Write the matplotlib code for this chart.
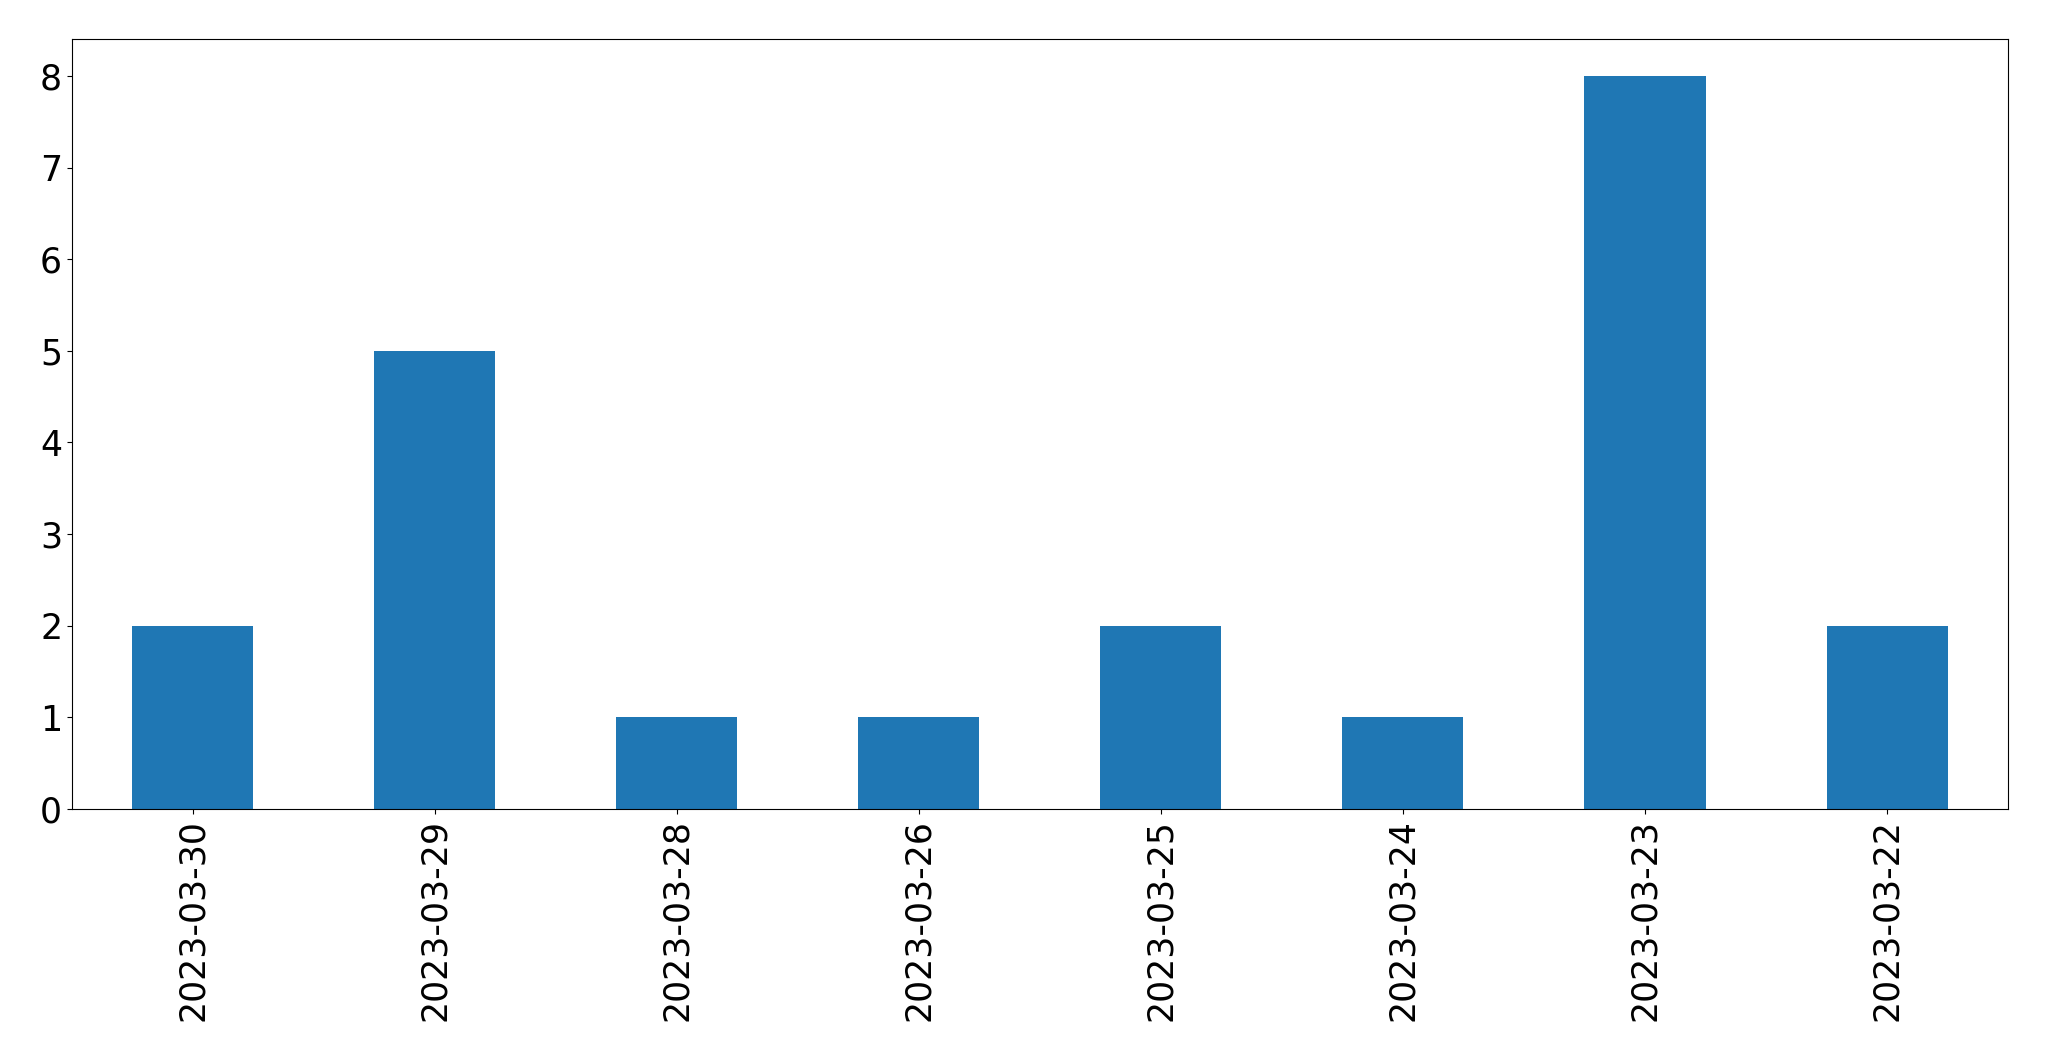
import matplotlib
matplotlib.use("Agg")
import matplotlib.pyplot as plt
import pandas as pd

# counts per day
dates = ["2023-03-30", "2023-03-29", "2023-03-28", "2023-03-26",
         "2023-03-25", "2023-03-24", "2023-03-23", "2023-03-22"]
counts = [2, 5, 1, 1, 2, 1, 8, 2]

s = pd.Series(counts, index=dates)

fig = plt.figure(figsize=(20.49, 10.61), dpi=100)
ax = fig.add_axes([0.0351, 0.2375, 0.9449, 0.7255])
s.plot(kind="bar", ax=ax, fontsize=25)
plt.savefig("out.png", dpi=100)
plt.close()
